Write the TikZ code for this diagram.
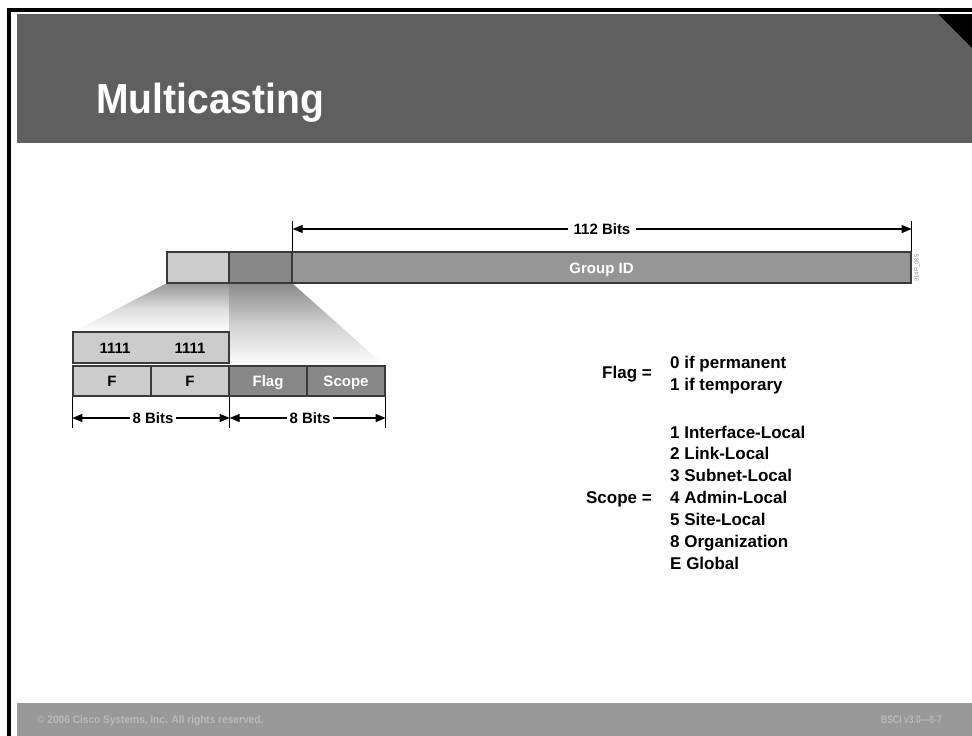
\documentclass[tikz,border=0pt]{standalone}
\usepackage{fontspec}
\usepackage{graphicx}
\setmainfont{Liberation Sans}
\usetikzlibrary{arrows.meta}
\definecolor{hdr}{HTML}{5F5F5F}
\definecolor{ftr}{HTML}{999999}
\definecolor{ftrtxt}{HTML}{B8B8B8}
\definecolor{lightbox}{HTML}{CCCCCC}
\definecolor{darkbox}{HTML}{888888}
\definecolor{groupbox}{HTML}{969696}
\definecolor{edge}{HTML}{3A3A3A}
\definecolor{funL}{HTML}{959595}
\definecolor{funR}{HTML}{8A8A8A}
\begin{document}
\begin{tikzpicture}[x=1pt,y=-1pt,
  fbox/.style={draw=edge, line width=1.3pt, inner sep=0pt, text height=11pt, text depth=0pt, font=\bfseries\fontsize{15}{17}\selectfont},
  lbl/.style={inner sep=0pt, text height=11pt, text depth=0pt, font=\bfseries\fontsize{15}{17}\selectfont},
  gaplbl/.style={fill=white, inner sep=5pt, font=\bfseries\fontsize{15}{17}\selectfont},
  tickline/.style={draw=black, line width=1.2pt},
  dimarrow/.style={draw=black, line width=1.2pt, -{Triangle[length=10pt,width=8pt]}},
  rtxt/.style={inner sep=0pt, font=\bfseries\fontsize{17}{19}\selectfont}
]
\useasboundingbox (0,0) rectangle (972,736);
% frame
\fill[black] (7,8) rectangle (972,11.5);
\fill[black] (7,8) rectangle (11,736);
% header
\fill[hdr] (17,14) rectangle (972,143);
\fill[black] (938,14) -- (972,14) -- (972,48) -- cycle;
\node[anchor=base west, inner sep=0pt, text=white, font=\bfseries\fontsize{42}{44}\selectfont] (title) at (96,113) {\scalebox{0.93}[1]{Multicasting}};
% footer
\fill[ftr] (17,703) rectangle (972,736);
\node[anchor=base west, inner sep=0pt, text=ftrtxt, font=\bfseries\fontsize{11}{12}\selectfont] (copy) at (37,723) {\scalebox{0.92}[1]{© 2006 Cisco Systems, Inc. All rights reserved.}};
\node[anchor=base east, inner sep=0pt, text=ftrtxt, font=\bfseries\fontsize{11}{12}\selectfont] (ver) at (942,723) {\scalebox{0.78}[1]{BSCI v3.0—8-7}};

% funnels
\shade[top color=funL, bottom color=white, middle color=funL!35!white] (167,283) -- (229,283) -- (229,332) -- (73,332) -- cycle;
\shade[top color=funR, bottom color=white, middle color=funR!40!white] (229,283) -- (292,283) -- (385,366) -- (229,366) -- cycle;

% top bar
\node[fbox, fill=lightbox, minimum width=62, minimum height=31] (lb) at (198,267.5) {};
\node[fbox, fill=darkbox, minimum width=63, minimum height=31] (db) at (260.5,267.5) {};
\node[fbox, fill=groupbox, minimum width=619, minimum height=31, text=white] (gid) at (601.5,267.5) {Group ID};
\node[rotate=90, inner sep=0pt, text=darkbox, font=\fontsize{6}{7}\selectfont] (code) at (917,268) {314P\_085};

% 112 bits dimension
\draw[tickline] (db.north east) -- ++(0,-30) coordinate (k1);
\draw[tickline] (gid.north east) -- ++(0,-30) coordinate (k2);
\node[gaplbl] (b112) at (602,229) {112 Bits};
\draw[dimarrow] (b112) -- (k1 |- b112);
\draw[dimarrow] (b112) -- (k2 |- b112);

% expanded fields
\node[fbox, fill=lightbox, minimum width=156, minimum height=31] (ones) at (151,347.5) {};
\node[lbl] (o1) at (115,347.5) {1111};
\node[lbl] (o2) at (190,347.5) {1111};
\node[fbox, fill=lightbox, minimum width=78, minimum height=30] (f1) at (112,381) {F};
\node[fbox, fill=lightbox, minimum width=78, minimum height=30] (f2) at (190,381) {F};
\node[fbox, fill=darkbox, minimum width=78, minimum height=30, text=white] (flag) at (268,381) {Flag};
\node[fbox, fill=darkbox, minimum width=78, minimum height=30, text=white] (scope) at (346,381) {Scope};

% 8 bits dimensions
\draw[tickline] (f1.south west) -- ++(0,31) coordinate (m1);
\draw[tickline] (f2.south east) -- ++(0,31) coordinate (m2);
\draw[tickline] (scope.south east) -- ++(0,31) coordinate (m3);
\node[gaplbl, inner sep=2pt] (e1) at (153,418) {8 Bits};
\node[gaplbl, inner sep=2pt] (e2) at (310,418) {8 Bits};
\draw[dimarrow] (e1) -- (m1 |- e1);
\draw[dimarrow] (e1) -- (m2 |- e1);
\draw[dimarrow] (e2) -- (m2 |- e2);
\draw[dimarrow] (e2) -- (m3 |- e2);

% legend
\node[rtxt, anchor=base east] (flageq) at (652,378) {Flag =};
\node[rtxt, anchor=base west] (fl0) at (670,368) {0 if permanent};
\node[rtxt, anchor=base west] (fl1) at (670,390) {1 if temporary};
\node[rtxt, anchor=base east] (scopeeq) at (652,503.5) {Scope =};
\node[rtxt, anchor=base west] (s1) at (670,438) {1 Interface-Local};
\node[rtxt, anchor=base west] (s2) at (670,459.8) {2 Link-Local};
\node[rtxt, anchor=base west] (s3) at (670,481.7) {3 Subnet-Local};
\node[rtxt, anchor=base west] (s4) at (670,503.5) {4 Admin-Local};
\node[rtxt, anchor=base west] (s5) at (670,525.3) {5 Site-Local};
\node[rtxt, anchor=base west] (s8) at (670,547.2) {8 Organization};
\node[rtxt, anchor=base west] (sE) at (670,569) {E Global};
\end{tikzpicture}
\end{document}
